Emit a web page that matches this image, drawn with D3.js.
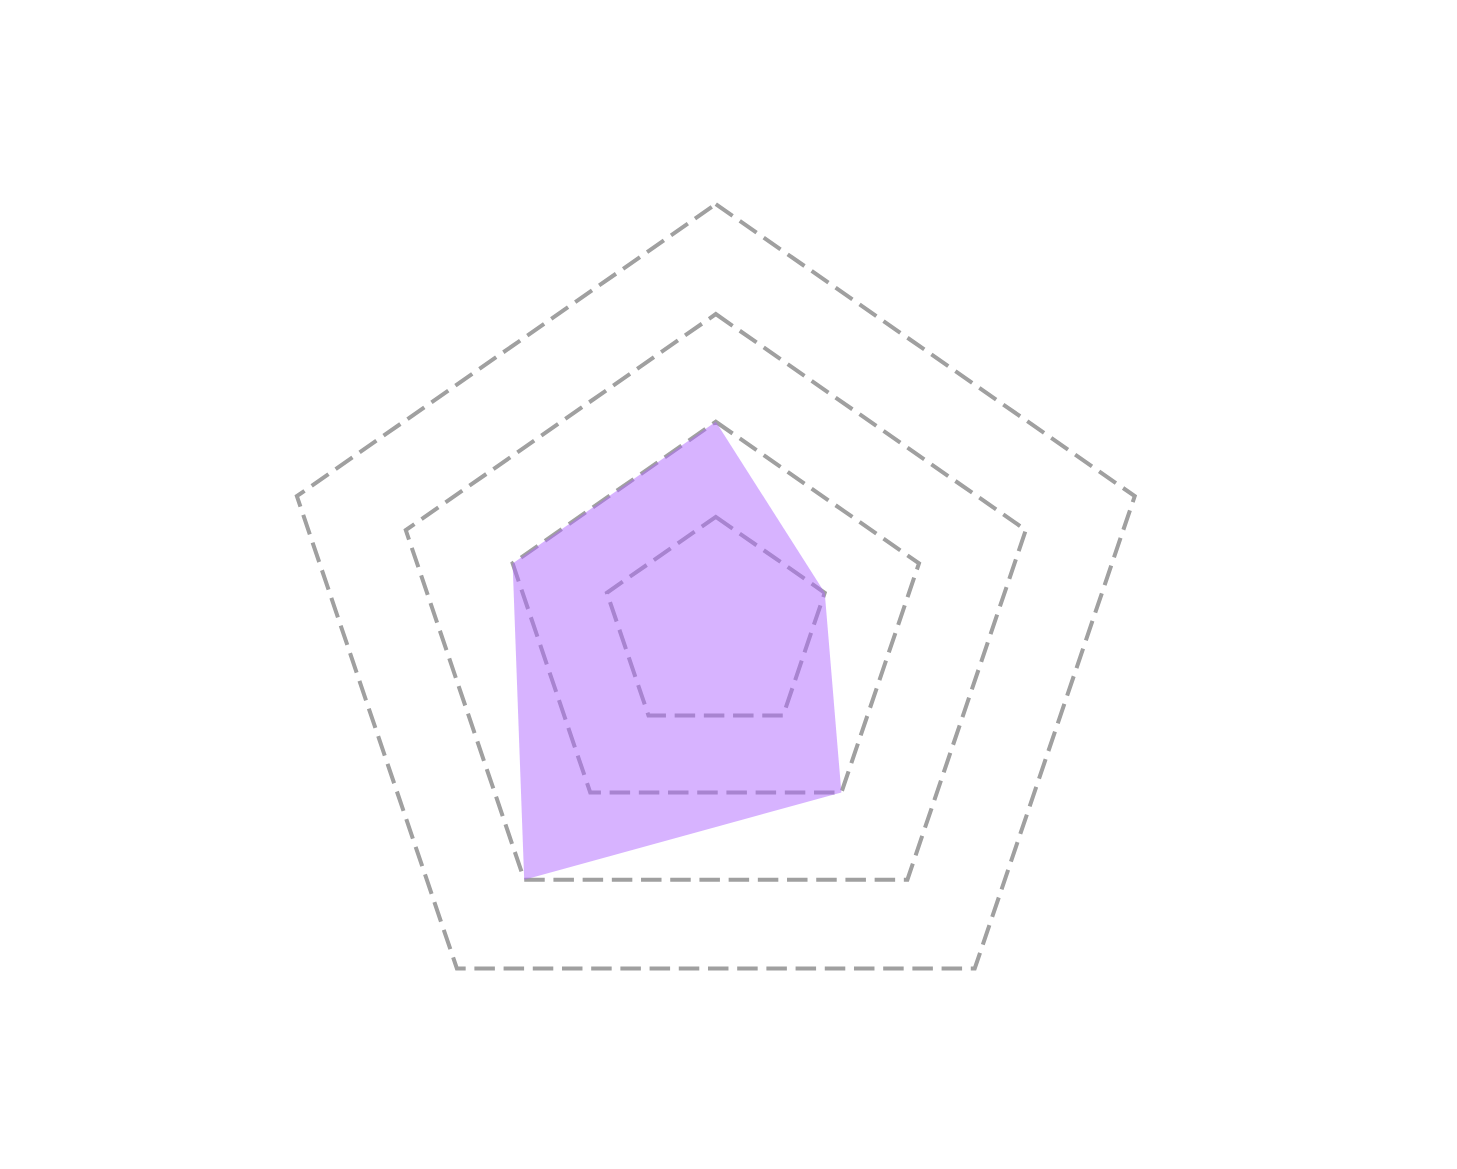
<!DOCTYPE html>
<html>
<head>
<meta charset="utf-8">
<script src="https://cdn.jsdelivr.net/npm/d3@7"></script>
<style>
  html, body { margin: 0; padding: 0; background: #fff; }
</style>
</head>
<body>
<svg id="chart" width="1457" height="1169"></svg>
<script>
// axes go clockwise starting at the top
const axes = ['A', 'B', 'C', 'D', 'E'];
const values = [48.5, 26, 48.5, 74, 48.5];
const levels = [26, 48.5, 74, 100];

const svg = d3.select('#chart');
const cx = 715.8;
const cy = 626.7;

// chart is a bit wider than tall
const rScaleX = d3.scaleLinear().domain([0, 100]).range([0, 440.5]);
const rScaleY = d3.scaleLinear().domain([0, 100]).range([0, 422.5]);
const angle = d3.scaleLinear().domain([0, axes.length]).range([0, 2 * Math.PI]);

const point = (v, i) => [
  cx + rScaleX(v) * Math.sin(angle(i)),
  cy - rScaleY(v) * Math.cos(angle(i))
];

const line = d3.line().curve(d3.curveLinearClosed);

const g = svg.append('g');

// grid rings
g.selectAll('.ring')
  .data(levels)
  .enter()
  .append('path')
  .classed('ring', true)
  .attr('d', (lv) => line(axes.map((a, i) => point(lv, i))))
  .attr('fill', 'none')
  .attr('stroke', '#a0a0a0')
  .attr('stroke-width', 4)
  .attr('stroke-dasharray', '20.5,8.7');

// data area
g.append('path')
  .attr('d', line(values.map((v, i) => point(v, i))))
  .attr('fill', 'rgb(176,104,255)')
  .attr('fill-opacity', 0.5)
  .attr('stroke', 'none');
</script>
</body>
</html>
